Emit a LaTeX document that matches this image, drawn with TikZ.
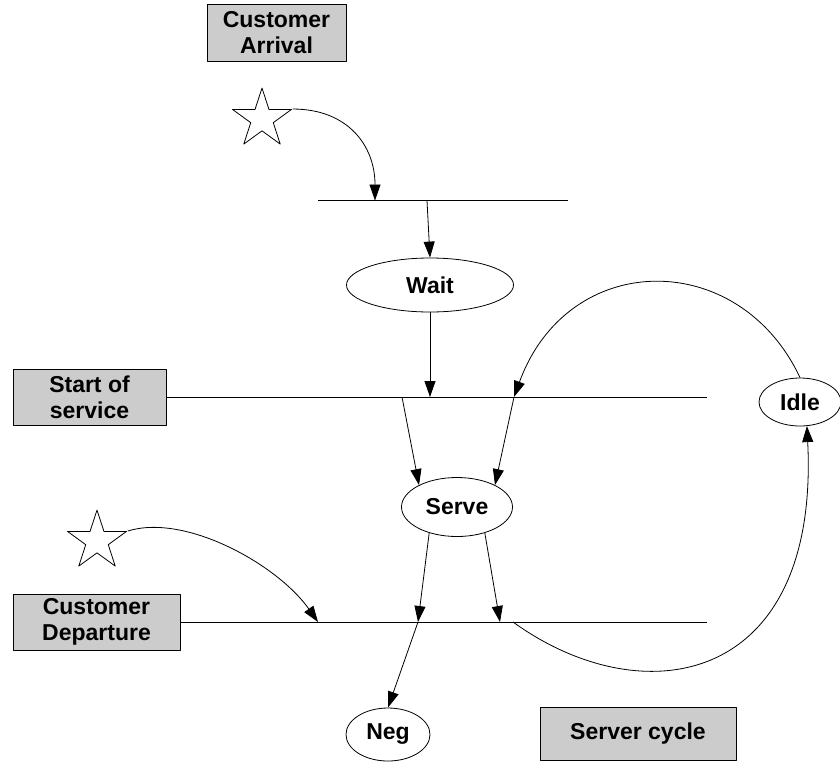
\documentclass[tikz,border=0pt]{standalone}
\usepackage{fontspec}
\setmainfont{Liberation Sans}
\usetikzlibrary{shapes.geometric,arrows.meta}
\definecolor{boxgray}{HTML}{CCCCCC}
\tikzset{
  eventbox/.style={draw, fill=boxgray, align=center, inner sep=0pt, font=\bfseries\fontsize{23}{26}\selectfont},
  activity/.style={draw, ellipse, inner sep=0pt, font=\bfseries\fontsize{23}{26}\selectfont},
  eventstar/.style={draw, star, star points=5, star point ratio=2.618, inner sep=0pt, minimum size=62pt},
  flow/.style={-{Triangle[length=16pt,width=11pt]}},
}
\begin{document}
\begin{tikzpicture}[x=1pt, y=-1pt, line width=0.8pt, line join=round]
\useasboundingbox (0,0) rectangle (840,761);

% event boxes
\node [eventbox, minimum width=139pt, minimum height=57pt] (arrival)   at (276.5, 32.5) {Customer\\Arrival};
\node [eventbox, minimum width=153pt, minimum height=56pt] (start)     at ( 89.5,397)   {Start of\\service};
\node [eventbox, minimum width=167pt, minimum height=56pt] (departure) at ( 96.5,622)   {Customer\\Departure};
\node [eventbox, minimum width=196pt, minimum height=53pt] (cycle)     at (638,733.5)   {Server cycle};

% activities
\node [activity, minimum width=167pt, minimum height=54pt] (wait)  at (430,285)   {Wait};
\node [activity, minimum width=111pt, minimum height=59pt] (serve) at (457,507)   {Serve};
\node [activity, minimum width=82pt,  minimum height=48pt] (idle)  at (800,402)   {Idle};
\node [activity, minimum width=84pt,  minimum height=53pt] (neg)   at (388,734.5) {Neg};

% external events
\node [eventstar] (star1) at (262,119) {};
\node [eventstar] (star2) at ( 97,541) {};

% time lines
\coordinate (l1w) at (318,200.5);
\coordinate (l1e) at (568,200.5);
\coordinate (l2e) at (707,397);
\coordinate (l3e) at (707,622);

\draw (l1w) -- (l1e);
\draw (start.east) -- (l2e);
\draw (departure.east) -- (l3e);

\coordinate (a1) at (375,200.5);
\coordinate (w0) at (427,200.5);
\coordinate (s1) at (430,397);
\coordinate (s2) at (402,397);
\coordinate (s3) at (514,397);
\coordinate (d1) at (318,622);
\coordinate (d2) at (418,622);
\coordinate (d3) at (500,622);
\coordinate (d4) at (513,622);

% customer flow
\draw [flow] (star1.18) .. controls +(55,0) and +(0,-55) .. (a1);
\draw [flow] (w0) -- (wait.north);
\draw [flow] (wait.south) -- (s1);
\draw [flow] (s2) -- (serve.150);
\draw [flow] (s3) -- (serve.30);
\draw [flow] (serve.223) -- (d2);
\draw [flow] (serve.317) -- (d3);
\draw [flow] (d2) -- (neg.north);
\draw [flow] (star2.18) .. controls +(58,-18) and +(-40,-57) .. (d1);

% server cycle
\draw [flow] (idle.north) .. controls +(-61,-130) and +(54,-148) .. (s3);
\draw [flow] (d4) .. controls +(130,94) and +(13,260) .. (idle.-74);

\end{tikzpicture}
\end{document}
